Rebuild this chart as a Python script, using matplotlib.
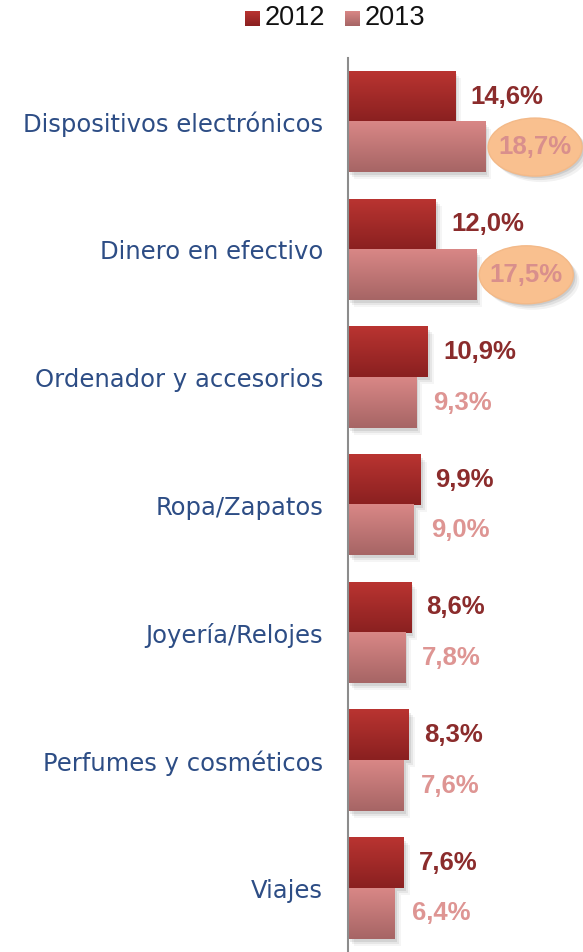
import numpy as np
import matplotlib
matplotlib.use('Agg')
import matplotlib.pyplot as plt
from matplotlib.patches import Ellipse, Rectangle
from matplotlib.colors import LinearSegmentedColormap

categorias = ['Dispositivos electrónicos', 'Dinero en efectivo', 'Ordenador y accesorios',
              'Ropa/Zapatos', 'Joyería/Relojes', 'Perfumes y cosméticos', 'Viajes']
v2012 = [14.6, 12.0, 10.9, 9.9, 8.6, 8.3, 7.6]
v2013 = [18.7, 17.5, 9.3, 9.0, 7.8, 7.6, 6.4]
destacados = [0, 1]  # etiquetas 2013 con elipse

cm12 = LinearSegmentedColormap.from_list('c12', ['#b93431', '#8a2020'])
cm13 = LinearSegmentedColormap.from_list('c13', ['#d98786', '#a66565'])
grad = np.linspace(0, 1, 64).reshape(-1, 1)
fuente_num = 'Liberation Sans'

fig = plt.figure(figsize=(5.83, 9.52), dpi=100)
ax = fig.add_axes([348 / 583, 0, 235 / 583, 894 / 952])

y = np.arange(len(categorias))
h = 0.395
xpx = 235 / 32.06  # pixeles por unidad
ypx = 894 / 7.0

def barra(x0, yc, ancho, cmap):
    y0, y1 = yc - h / 2, yc + h / 2
    for k, a in [(6, 0.04), (4, 0.06), (2, 0.08)]:
        ax.add_patch(Rectangle((x0 + k / xpx, y0 + (k + 1) / ypx), ancho, h, color='#000000',
                               alpha=a, lw=0, zorder=1))
    ax.imshow(grad, cmap=cmap, aspect='auto', extent=(x0, x0 + ancho, y1, y0),
              zorder=2, interpolation='bicubic')

def etiqueta(v):
    return f'{v:.1f}%'.replace('.', ',')

for i in y:
    barra(0, i - h / 2, v2012[i], cm12)
    barra(0, i + h / 2, v2013[i], cm13)
    ax.annotate(etiqueta(v2012[i]), (v2012[i], i - h / 2),
                xytext=(15, 0), textcoords='offset pixels', ha='left', va='center',
                fontsize=18.5, fontweight='bold', family=fuente_num, color='#8b2c2c', zorder=5)
    if i in destacados:
        cx = v2013[i] + 50 / xpx
        for k, a in [(6, 0.05), (4, 0.07), (2, 0.09)]:
            ax.add_patch(Ellipse((cx + k / xpx, i + h / 2 + k / ypx), 94 / xpx, 58 / ypx,
                                 color='#000000', alpha=a, lw=0, zorder=3))
        ax.add_patch(Ellipse((cx, i + h / 2), 94 / xpx, 58 / ypx,
                             facecolor='#f9c08f', edgecolor='#f3b988', lw=1, zorder=4))
        ax.annotate(etiqueta(v2013[i]), (cx, i + h / 2),
                    ha='center', va='center', fontsize=18.5, fontweight='bold',
                    family=fuente_num, color='#d98f8c', zorder=5)
    else:
        ax.annotate(etiqueta(v2013[i]), (v2013[i], i + h / 2),
                    xytext=(17, 0), textcoords='offset pixels', ha='left', va='center',
                    fontsize=18.5, fontweight='bold', family=fuente_num,
                    color='#de9593', zorder=5)

ax.set_xlim(0, 32.06)
ax.set_ylim(6.5, -0.5)
ax.set_yticks(y)
ax.set_yticklabels(categorias, fontsize=17.5, color='#2d4d85')
ax.tick_params(axis='y', length=0, pad=18)
ax.set_xticks([])
for s in ['top', 'right', 'bottom']:
    ax.spines[s].set_visible(False)
ax.spines['left'].set_color('#8c8c8c')
ax.spines['left'].set_linewidth(1.5)

# leyenda
for x0, cmap, txt in [(245, cm12, '2012'), (345, cm13, '2013')]:
    lax = fig.add_axes([x0 / 583, (952 - 26) / 952, 15 / 583, 15 / 952])
    lax.imshow(grad, cmap=cmap, aspect='auto')
    lax.axis('off')
    fig.text((x0 + 20) / 583, (952 - 18) / 952, txt, fontsize=19.5, family=fuente_num,
             color='#111111', ha='left', va='center')

fig.savefig('out.png', dpi=100)
